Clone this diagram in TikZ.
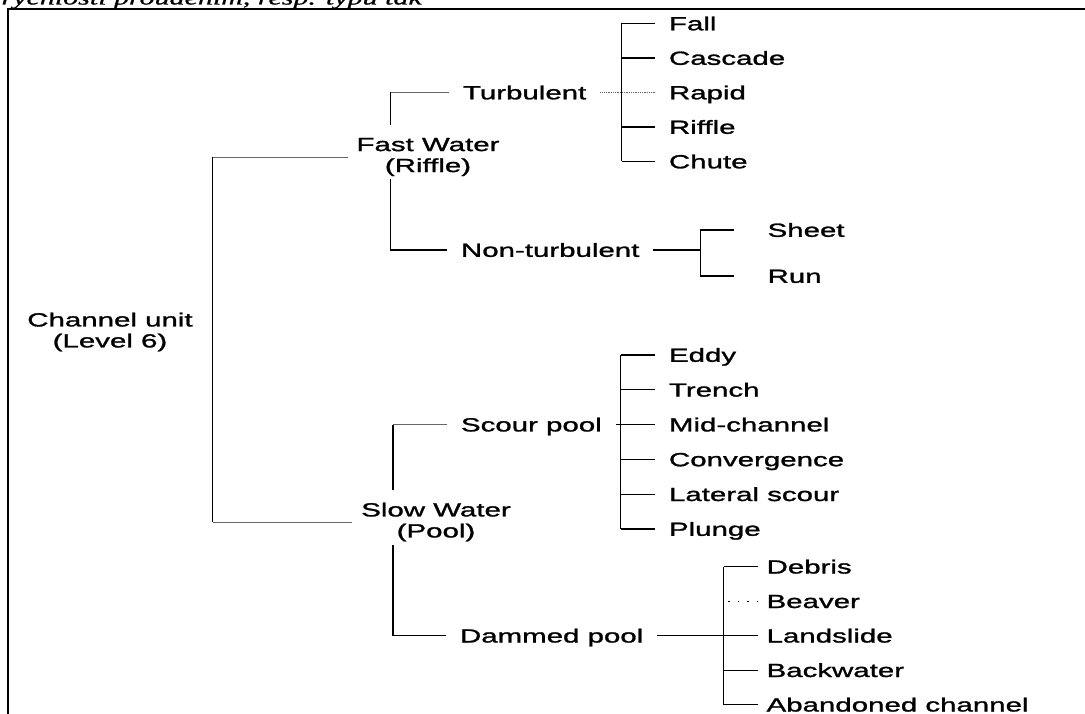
\documentclass[tikz,border=0pt]{standalone}
\usepackage{fontspec}
\newfontfamily\treefont[FakeStretch=1.55, FakeBold=1.4]{Liberation Sans}
\newfontfamily\capfont[FakeStretch=1.5, FakeBold=1]{Liberation Serif}

\begin{document}
\begin{tikzpicture}[x=1pt, y=-1pt, line width=1.1pt,
    lbl/.style={anchor=west, inner sep=0pt, outer xsep=14pt, text height=13.6pt, text depth=0pt,
        font=\treefont\fontsize{19}{19}\selectfont},
    grp/.style={align=center, inner sep=0pt, outer xsep=9pt, font=\treefont\fontsize{19}{21}\selectfont},
    faint/.style={line width=0.8pt, black!60}]
    \useasboundingbox (0,0) rectangle (1085,714);
    \clip (0,0) rectangle (1085,714);
    % Cut caption and frame
    \node[anchor=base west, inner sep=0pt, font=\capfont\itshape\fontsize{20}{22}\selectfont] (cap) at (1,4.5) {rychlosti prouděním, resp. typu tak};
    \draw[line width=2pt] (7.6,720) -- (7.6,9.3) -- (1090,9.3);
    % Level 6
    \node[grp] (unit) at (110,332) {Channel unit\\(Level 6)};
    \node[grp] (fast) at (428,157) {Fast Water\\(Riffle)};
    \node[grp] (slow) at (436,522) {Slow Water\\(Pool)};
    \coordinate (rj) at (212.7,0);
    \draw[faint] (fast.west) -- (fast.west -| rj);
    \draw (fast.west -| rj) -- (slow.west -| rj);
    \draw[faint] (slow.west -| rj) -- (slow.west);
    % Fast water
    \node[lbl] (turb) at (449,92.5) {Turbulent};
    \node[lbl] (nonturb) at (447,250) {Non-turbulent};
    \coordinate (fj) at (390.7,0);
    \draw[shorten <=12pt] (fast.north -| fj) -- (turb.west -| fj);
    \draw[faint] (turb.west -| fj) -- (turb.west);
    \draw[shorten <=2pt] (fast.south -| fj) |- (nonturb.west);
    % Turbulent
    \foreach \n/\t/\y in {fall/Fall/23.5, cascade/Cascade/58, rapid/Rapid/92.5, riffle/Riffle/127, chute/Chute/161.5}
        \node[lbl] (\n) at (655,\y) {\t};
    \coordinate (tj) at (621.7,0);
    \foreach \n in {fall,cascade,riffle,chute} \draw (\n.west) -- (\n.west -| tj);
    \draw (fall.west -| tj) -- (chute.west -| tj);
    \draw[faint, densely dotted] (turb.east) -- (rapid.west);
    % Non-turbulent
    \node[lbl, outer xsep=34pt] (sheet) at (733.6,230) {Sheet};
    \node[lbl, outer xsep=34pt] (run) at (733.6,276) {Run};
    \coordinate (nj) at (700.6,0);
    \draw (nonturb.east) -- (nonturb.east -| nj);
    \draw (sheet.west) -| (nj |- run.west) -- (run.west);
    % Slow water
    \node[lbl] (scour) at (447,424.6) {Scour pool};
    \node[lbl] (dammed) at (446,635.7) {Dammed pool};
    \coordinate (sj) at (393,0);
    \draw[shorten <=12pt] (slow.north -| sj) -- (scour.west -| sj);
    \draw[faint] (scour.west -| sj) -- (scour.west);
    \draw[shorten <=3pt] (slow.south -| sj) |- (dammed.west);
    % Scour pool
    \foreach \n/\t/\y in {eddy/Eddy/355, trench/Trench/389.8, mid/Mid-channel/424.6, conv/Convergence/459.4, lateral/Lateral scour/494.2, plunge/Plunge/529}
        \node[lbl] (\n) at (655,\y) {\t};
    \coordinate (pj) at (620.6,0);
    \foreach \n in {eddy,trench,conv,lateral,plunge} \draw (\n.west) -- (\n.west -| pj);
    \draw (eddy.west -| pj) -- (plunge.west -| pj);
    \draw (scour.east) -- (mid.west);
    % Dammed pool
    \foreach \n/\t/\y in {debris/Debris/566.7, beaver/Beaver/601.2, land/Landslide/635.7, back/Backwater/670.2, aband/Abandoned channel/704.7}
        \node[lbl, outer xsep=8.6pt] (\n) at (758,\y) {\t};
    \coordinate (dj) at (723.5,0);
    \foreach \n in {debris,back,aband} \draw (\n.west) -- (\n.west -| dj);
    \draw[dash pattern=on 1.5pt off 8pt] (beaver.west) -- (beaver.west -| dj);
    \draw (debris.west -| dj) -- (aband.west -| dj);
    \draw (dammed.east) -- (land.west);
\end{tikzpicture}
\end{document}
